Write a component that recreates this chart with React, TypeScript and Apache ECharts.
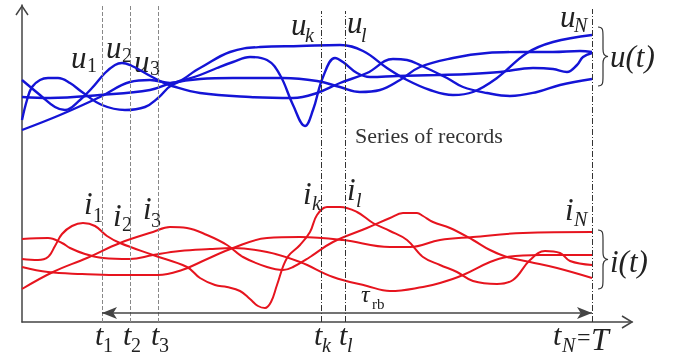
import React, { useEffect, useRef } from "react";
import * as echarts from "echarts";

// time axis: 0 .. 610 (arbitrary units), amplitude axis: 0 .. 317
const T_MAX = 610;
const V_MAX = 317;

// record instants t1, t2, t3, tk, tl, tN
const recordTimes = [80, 108, 136, 299, 323, 570];
const recordNames = ["1", "2", "3", "k", "l", "N"];
const recordTops = [316, 316, 316, 311, 311, 313];

// voltage records u(t)
const uRecord1 = [[0,192],[38,207],[78,225],[108,240],[128,242],[148,239],[178,254],[208,270],[238,275],[278,276],[318,277],[341,271],[365,254],[385,242],[408,232],[431,227],[451,230],[475,244],[505,269],[531,280],[570,287]];
const uRecord2 = [[0,242],[18,227],[33,215],[43,212],[58,222],[70,234],[83,249],[93,257],[100,259],[110,256],[123,249],[140,240],[150,236],[178,229],[228,225],[271,224],[295,229],[318,239],[345,249],[371,263],[385,262],[398,257],[425,244],[441,235],[465,229],[488,226],[515,230],[538,237],[570,243]];
const uRecord3 = [[0,202],[5,222],[10,235],[18,242],[26,244],[36,244],[48,239],[60,230],[80,217],[103,212],[123,215],[136,224],[150,237],[178,247],[195,254],[211,260],[228,265],[245,262],[258,247],[271,217],[283,196],[291,212],[301,245],[313,264],[321,260],[335,249],[348,245],[375,246],[415,247],[448,248],[478,250],[511,254],[531,253],[545,250],[555,257],[561,265],[570,269]];
const uRecord4 = [[0,225],[28,224],[78,227],[128,232],[150,239],[178,243],[211,244],[261,244],[295,241],[318,235],[338,230],[358,232],[378,242],[398,255],[431,264],[465,269],[498,270],[531,270],[558,271],[570,270]];

// current records i(t)
const iRecord1 = [[0,83],[26,84],[40,79],[48,74],[63,68],[81,64],[108,63],[131,67],[158,71],[188,73],[211,74],[245,70],[278,60],[311,45],[345,36],[368,31],[401,35],[418,39],[441,47],[468,60],[485,65],[518,67],[570,67]];
const iRecord2 = [[0,63],[16,62],[26,65],[33,76],[40,88],[50,96],[61,99],[73,96],[85,86],[98,79],[131,67],[165,55],[178,44],[193,37],[205,35],[218,31],[228,23],[236,16],[243,14],[249,20],[255,37],[265,64],[278,77],[288,90],[295,107],[305,115],[318,115],[335,110],[351,99],[368,91],[385,82],[401,65],[418,57],[435,50],[451,41],[475,38],[491,42],[508,62],[523,71],[538,69],[548,61],[570,57]];
const iRecord3 = [[0,55],[26,50],[60,48],[93,47],[136,47],[160,52],[183,62],[211,74],[245,84],[278,85],[321,82],[368,75],[388,75],[418,82],[451,85],[501,89],[570,90]];
const iRecord4 = [[0,33],[31,50],[65,64],[98,79],[131,90],[148,95],[165,94],[185,87],[205,77],[221,65],[245,55],[261,52],[271,55],[288,65],[311,80],[345,94],[368,104],[381,109],[395,109],[401,106],[411,100],[428,94],[451,82],[468,72],[485,65],[508,60],[535,54],[570,44]];

const uRecords = [uRecord1, uRecord2, uRecord3, uRecord4];
const iRecords = [iRecord1, iRecord2, iRecord3, iRecord4];

const BLUE = "#1414d6";
const RED = "#e6141e";
const INK = "#222222";
const SERIF = "Liberation Serif";

function label(x: number, baseline: number, text: string, size: number, italic: boolean, fill = INK) {
  return {
    type: "text",
    x,
    y: baseline - 0.34 * size,
    silent: true,
    style: {
      text,
      fontFamily: SERIF,
      fontSize: size,
      fontStyle: italic ? "italic" : "normal",
      fill,
      align: "left",
      verticalAlign: "middle",
    },
  };
}

const BRACE_D = "M0,0 C5,0 5,3 5,10 L5,22 C5,27 6,29 10,29.5 C6,30 5,32 5,37 L5,49 C5,56 5,59 0,59";

export default function App() {
  const ref = useRef<HTMLDivElement>(null);
  useEffect(() => {
    if (!ref.current) return;
    echarts.graphic.registerShape("brace", echarts.graphic.extendPath(BRACE_D, {}));
    const chart = echarts.init(ref.current, undefined, { renderer: "svg" });

    const lineSeries = (d: number[][], color: string, width: number) => ({
      type: "line",
      data: d,
      smooth: 0.4,
      showSymbol: false,
      silent: true,
      lineStyle: { color, width },
      z: 3,
    });

    const recordLines = recordTimes.map((t, k) => [
      { coord: [t, 0], lineStyle: k < 3 ? { color: "#888", width: 1, type: [4, 2] } : { color: "#333", width: 1, type: [6, 2, 1, 2] } },
      { coord: [t, recordTops[k]] },
    ]);

    const texts: any[] = [];
    const uPos = [[71, 68, 87, 72], [106, 58, 122, 62], [134, 72, 150, 75], [291, 35, 305, 42], [347, 33, 361, 42], [560, 27, 574, 32]];
    const iPos = [[84, 214, 93, 222], [113, 226, 122, 231], [143, 219, 151, 227], [303, 204, 312, 210], [347, 200, 356, 207], [565, 220, 574, 226]];
    const tPos = [[95, 345, 103], [123, 345, 131], [151, 345, 159], [314, 345, 322], [339, 345, 347], [553, 345, 562]];
    recordNames.forEach((n, k) => {
      const isDigit = /\d/.test(n);
      texts.push(label(uPos[k][0], uPos[k][1], "u", 31, true));
      texts.push(label(uPos[k][2], uPos[k][3], n, 20, !isDigit));
      texts.push(label(iPos[k][0], iPos[k][1], "i", 31, true));
      texts.push(label(iPos[k][2], iPos[k][3], n, 20, !isDigit));
      texts.push(label(tPos[k][0], tPos[k][1], "t", 30, true));
      texts.push(label(tPos[k][2], tPos[k][1] + 7, n, 20, !isDigit));
    });
    texts.push(label(577, 345, "=", 24, false));
    texts.push(label(591, 350, "T", 32, true));
    texts.push(label(610, 67, "u(t)", 31, true));
    texts.push(label(610, 272, "i(t)", 31, true));
    texts.push(label(361, 302, "τ", 24, true));
    texts.push(label(372, 309, "rb", 15, false));
    texts.push(label(355, 143, "Series of records", 22, false, "#333"));

    chart.setOption({
      animation: false,
      grid: { left: 22, right: 44, top: 5, bottom: 34 },
      xAxis: {
        type: "value", min: 0, max: T_MAX,
        axisLine: { show: true, onZero: false, lineStyle: { color: "#444", width: 1.5 } },
        axisTick: { show: false }, axisLabel: { show: false }, splitLine: { show: false },
      },
      yAxis: {
        type: "value", min: 0, max: V_MAX,
        axisLine: { show: true, onZero: false, lineStyle: { color: "#444", width: 1.5 } },
        axisTick: { show: false }, axisLabel: { show: false }, splitLine: { show: false },
      },
      series: [
        {
          type: "line",
          data: [],
          silent: true,
          z: 1,
          markLine: {
            silent: true,
            symbol: ["none", "none"],
            label: { show: false },
            data: recordLines,
          },
        },
        {
          type: "line",
          data: [],
          silent: true,
          z: 2,
          markLine: {
            silent: true,
            symbol: ["arrow", "arrow"],
            symbolSize: [9, 15],
            label: { show: false },
            lineStyle: { color: "#444", width: 1.5, type: "solid" },
            data: [[{ coord: [recordTimes[0], 9] }, { coord: [recordTimes[5], 9] }]],
          },
        },
        ...uRecords.map((d) => lineSeries(d, BLUE, 2.4)),
        ...iRecords.map((d) => lineSeries(d, RED, 2)),
      ],
      graphic: [
        { type: "polyline", silent: true, shape: { points: [[16, 15], [22, 6], [28, 15]] }, style: { stroke: "#444", lineWidth: 1.5, fill: "none" } },
        { type: "polyline", silent: true, shape: { points: [[622, 316], [632, 322], [622, 328]] }, style: { stroke: "#444", lineWidth: 1.5, fill: "none" } },
        { type: "brace", x: 598, y: 27, silent: true, style: { stroke: "#333", fill: "none", lineWidth: 1.2 } },
        { type: "brace", x: 598, y: 230, silent: true, style: { stroke: "#333", fill: "none", lineWidth: 1.2 } },
        ...texts,
      ],
    });
    return () => chart.dispose();
  }, []);
  return <div ref={ref} style={{ position: "fixed", left: 0, top: 0, width: 676, height: 356 }} />;
}
